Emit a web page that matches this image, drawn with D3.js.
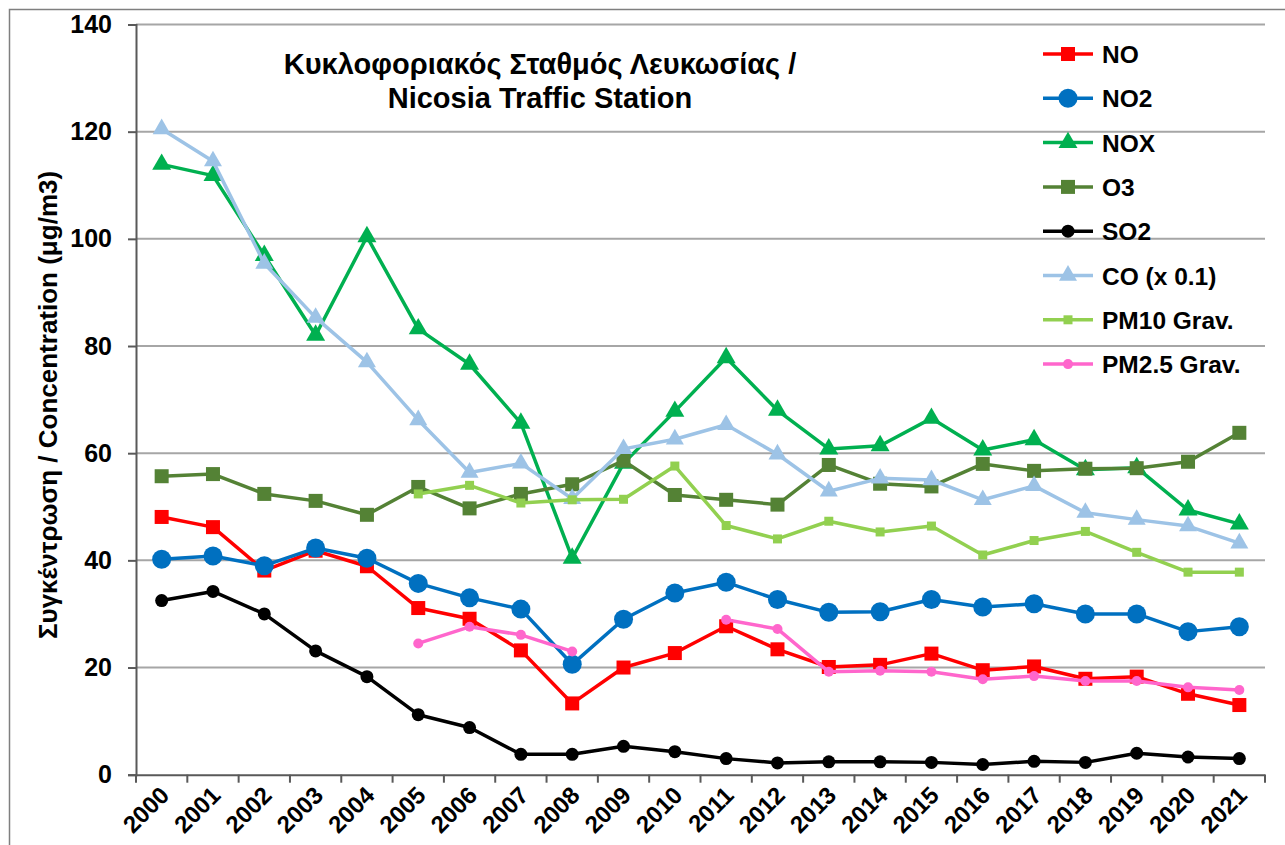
<!DOCTYPE html>
<html>
<head>
<meta charset="utf-8">
<script src="https://cdn.jsdelivr.net/npm/d3@7"></script>
<style>
html,body{margin:0;padding:0;background:#fff;}
svg{display:block;}
text{font-family:"Liberation Sans",Arial,sans-serif;font-weight:bold;fill:#000;}
</style>
</head>
<body>
<svg id="chart" width="1285" height="845"></svg>
<script>
const years = ["2000","2001","2002","2003","2004","2005","2006","2007","2008","2009","2010","2011","2012","2013","2014","2015","2016","2017","2018","2019","2020","2021"];
const seriesNames = ["NO","NO2","NOX","O3","SO2","CO (x 0.1)","PM10 Grav.","PM2.5 Grav."];
const NO   = [48.1,46.2,38.1,41.8,38.9,31.1,29.1,23.2,13.3,20.0,22.7,27.7,23.4,20.1,20.5,22.6,19.5,20.2,17.9,18.3,15.1,13.0];
const NO2  = [40.2,40.8,39.0,42.3,40.4,35.7,33.0,30.9,20.6,29.0,33.9,35.9,32.7,30.3,30.4,32.7,31.3,31.9,30.0,30.0,26.7,27.6];
const NOX  = [113.9,111.8,96.9,82.0,100.4,83.2,76.6,65.6,40.4,58.1,67.8,77.8,68.0,60.8,61.4,66.5,60.6,62.5,56.9,57.3,49.4,46.8];
const O3   = [55.7,56.1,52.4,51.1,48.5,53.7,49.7,52.4,54.2,58.6,52.2,51.3,50.4,57.8,54.3,53.8,58.0,56.7,57.1,57.2,58.4,63.8];
const SO2  = [32.5,34.2,30.0,23.1,18.3,11.2,8.8,3.8,3.8,5.3,4.3,3.0,2.2,2.4,2.4,2.3,1.9,2.5,2.3,4.0,3.3,3.0];
const CO   = [120.5,114.5,95.4,85.3,77.0,66.2,56.4,58.1,51.5,60.8,62.6,65.3,59.8,52.9,55.3,55.0,51.3,53.9,48.9,47.6,46.4,43.2];
const PM10 = [null,null,null,null,null,52.4,54.0,50.7,51.3,51.4,57.6,46.5,44.0,47.3,45.3,46.4,41.0,43.7,45.4,41.5,37.8,37.8];
const PM25 = [null,null,null,null,null,24.5,27.6,26.1,23.0,null,null,28.9,27.2,19.2,19.4,19.2,17.8,18.4,17.5,17.5,16.3,15.8];
const yTicks = [0,20,40,60,80,100,120,140];
const titleLines = ["Κυκλοφοριακός Σταθμός Λευκωσίας /","Nicosia Traffic Station"];
const yTitle = "Συγκέντρωση / Concentration (μg/m3)";

const styles = [
  {color:"#FF0000", shape:"square", size:14},
  {color:"#0070C0", shape:"circle", size:19},
  {color:"#00B050", shape:"triangle", size:19},
  {color:"#548235", shape:"square", size:14},
  {color:"#000000", shape:"circle", size:13},
  {color:"#9DC3E6", shape:"triangle", size:18},
  {color:"#92D050", shape:"square", size:9},
  {color:"#FF66CC", shape:"circle", size:10}
];
const values = [NO,NO2,NOX,O3,SO2,CO,PM10,PM25];

const svg = d3.select("#chart");
const L = 136, R = 1265, T = 24.5, B = 774.7;
const x = d3.scaleBand().domain(years).range([L,R]);
const y = d3.scaleLinear().domain([0,140]).range([B,T]);
const FF = "'Liberation Sans',Arial,sans-serif";

// outer border
svg.append("path").attr("d","M9.5,845 L9.5,9.5 L1285,9.5").attr("fill","none").attr("stroke","#7f7f7f").attr("stroke-width",1.5);

// gridlines
svg.append("g").selectAll("line").data(yTicks.filter(d=>d>0)).join("line")
  .attr("x1",L).attr("x2",R).attr("y1",d=>y(d)).attr("y2",d=>y(d))
  .attr("stroke","#A6A6A6").attr("stroke-width",2);

// y axis
const ya = svg.append("g").attr("transform",`translate(${L},0)`)
  .call(d3.axisLeft(y).tickValues(yTicks).tickSize(8).tickPadding(16).tickFormat(d3.format("d")));
ya.select(".domain").attr("stroke","#595959").attr("stroke-width",2);
ya.selectAll(".tick line").attr("stroke","#595959").attr("stroke-width",2);
ya.selectAll(".tick text").attr("font-size",25).attr("font-family",FF).attr("font-weight","bold").attr("fill","#000");

// x axis
const xa = svg.append("g").attr("transform",`translate(0,${B})`)
  .call(d3.axisBottom(x).tickSize(0).tickFormat(d=>d));
xa.select(".domain").attr("stroke","#595959").attr("stroke-width",2);
xa.selectAll(".tick text")
  .attr("font-size",24).attr("font-family",FF).attr("font-weight","bold").attr("fill","#000")
  .attr("text-anchor","end").attr("dy",null).attr("y",0)
  .attr("transform",`translate(9,22) rotate(-45)`);
const bounds = years.map(d=>x(d)).concat([R]);
svg.append("g").selectAll("line").data(bounds).join("line")
  .attr("x1",d=>d).attr("x2",d=>d).attr("y1",B).attr("y2",B+8)
  .attr("stroke","#595959").attr("stroke-width",2);

// series
const cx = d => x(d) + x.bandwidth()/2;
function marker(g, st, px, py){
  const s = st.size;
  if(st.shape==="square"){
    g.append("rect").attr("x",px-s/2).attr("y",py-s/2).attr("width",s).attr("height",s).attr("fill",st.color);
  } else if(st.shape==="circle"){
    g.append("circle").attr("cx",px).attr("cy",py).attr("r",s/2).attr("fill",st.color);
  } else {
    const area = Math.sqrt(3)/4*s*s;
    g.append("path").attr("d",d3.symbol(d3.symbolTriangle,area)()).attr("transform",`translate(${px},${py})`).attr("fill",st.color);
  }
}
values.forEach((vals,i)=>{
  const st = styles[i];
  const g = svg.append("g");
  const line = d3.line().defined(d=>d[1]!==null).x(d=>cx(d[0])).y(d=>y(d[1]));
  const pts = years.map((yr,j)=>[yr,vals[j]]);
  g.append("path").attr("d",line(pts)).attr("fill","none").attr("stroke",st.color).attr("stroke-width",3.5).attr("stroke-linejoin","round");
  pts.filter(p=>p[1]!==null).forEach(p=>marker(g,st,cx(p[0]),y(p[1])));
});

// title
svg.append("g").selectAll("text").data(titleLines).join("text")
  .attr("x",540).attr("y",(d,i)=>74+i*34).attr("text-anchor","middle").attr("font-size",29).text(d=>d);

// y title
svg.append("text").attr("transform","translate(57,405) rotate(-90)").attr("text-anchor","middle").attr("font-size",26).text(yTitle);

// legend
const lg = svg.append("g");
seriesNames.forEach((n,i)=>{
  const yy = 54 + i*44.3;
  const st = styles[i];
  lg.append("line").attr("x1",1043).attr("x2",1093).attr("y1",yy).attr("y2",yy).attr("stroke",st.color).attr("stroke-width",3.5);
  marker(lg,st,1068,yy);
  lg.append("text").attr("x",1102).attr("y",yy+9).attr("font-size",24.5).text(n);
});
</script>
</body>
</html>
